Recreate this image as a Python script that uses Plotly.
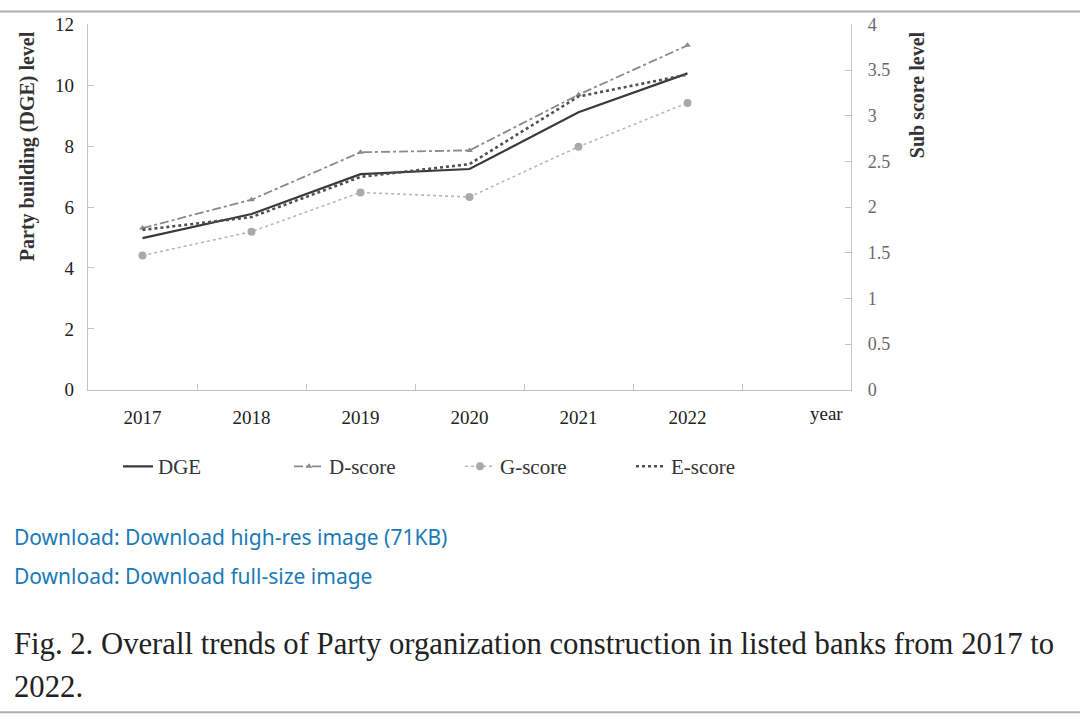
import plotly.graph_objects as go

years = ["2017", "2018", "2019", "2020", "2021", "2022"]
dge = [4.98, 5.77, 7.08, 7.25, 9.11, 10.39]
d_score = [1.77, 2.08, 2.60, 2.62, 3.23, 3.77]
g_score = [1.47, 1.73, 2.16, 2.11, 2.66, 3.14]
e_score = [1.75, 1.89, 2.33, 2.47, 3.21, 3.45]

W, H = 1080, 728
SERIF = "Liberation Serif"

def px_x(p):
    return p / W

def px_y(p):
    # screen pixel -> paper fraction (the page renders the figure ~708px tall, ~10px down)
    return 1 - (p - 9.65) / 708.1

fig = go.Figure()
fig.add_trace(go.Scatter(x=years, y=dge, name="DGE", mode="lines",
                         line=dict(color="#3a3a3a", width=2.2), yaxis="y"))
fig.add_trace(go.Scatter(x=years, y=d_score, name="D-score", mode="lines+markers",
                         line=dict(color="#8a8a8a", width=1.8, dash="dashdot"),
                         marker=dict(symbol="triangle-up", size=6, color="#8a8a8a"),
                         yaxis="y2"))
fig.add_trace(go.Scatter(x=years, y=g_score, name="G-score", mode="lines+markers",
                         line=dict(color="#b8b8b8", width=1.6, dash="dot"),
                         marker=dict(symbol="circle", size=8, color="#aaaaaa"),
                         yaxis="y2"))
fig.add_trace(go.Scatter(x=years, y=e_score, name="E-score", mode="lines",
                         line=dict(color="#505050", width=2.6, dash="dot"),
                         yaxis="y2"))

axis_line = "#c4c4c4"
fig.update_layout(
    width=W, height=H,
    margin=dict(l=0, r=0, t=0, b=0),
    paper_bgcolor="white", plot_bgcolor="white",
    font=dict(family=SERIF, color="#333333", size=17),
    xaxis=dict(domain=[px_x(88), px_x(851)], type="category", categoryorder="array",
               categoryarray=years, range=[-0.5, 6.5], tickson="boundaries",
               ticks="inside", ticklen=6, tickcolor=axis_line,
               showline=True, linecolor=axis_line, linewidth=1.3,
               showgrid=False, zeroline=False, ticklabelstandoff=10,
               tickfont=dict(family=SERIF, size=19, color="#222222")),
    yaxis=dict(domain=[px_y(390), px_y(24)], range=[0, 12], dtick=2,
               ticks="inside", ticklen=6, tickcolor=axis_line,
               showline=True, linecolor=axis_line, linewidth=1.3,
               showgrid=False, zeroline=False, ticklabelstandoff=9,
               tickfont=dict(family=SERIF, size=19, color="#222222")),
    yaxis2=dict(overlaying="y", side="right", range=[0, 4], dtick=0.5,
                anchor="x", ticks="inside", ticklen=6, tickcolor=axis_line,
                showline=True, linecolor=axis_line, linewidth=1.3,
                showgrid=False, zeroline=False, ticklabelstandoff=12,
                tickfont=dict(family=SERIF, size=18, color="#6a6a6a")),
    showlegend=True,
    legend=dict(orientation="h", x=px_x(118), y=px_y(467), yanchor="middle",
                xanchor="left", entrywidth=126, entrywidthmode="pixels",
                font=dict(family=SERIF, size=21, color="#333333"),
                bgcolor="rgba(0,0,0,0)"),
)

annotations = [
    dict(text="<b>Party building (DGE) level</b>", x=px_x(27), y=px_y(146), textangle=-90,
         font=dict(family=SERIF, size=20, color="#333333")),
    dict(text="<b>Sub score level</b>", x=px_x(917), y=px_y(95), textangle=-90,
         font=dict(family=SERIF, size=20, color="#333333")),
    dict(text="year", x=px_x(826), y=px_y(414),
         font=dict(family=SERIF, size=19, color="#222222")),
    dict(text="Download: Download high-res image (71KB)", x=px_x(12), y=px_y(537), xanchor="left",
         font=dict(family="Noto Sans", size=21, color="#1a7ab8")),
    dict(text="Download: Download full-size image", x=px_x(12), y=px_y(577), xanchor="left",
         font=dict(family="Noto Sans", size=21, color="#1a7ab8")),
    dict(text="Fig. 2. Overall trends of Party organization construction in listed banks from 2017 to",
         x=px_x(12), y=px_y(645), xanchor="left",
         font=dict(family=SERIF, size=30.7, color="#222222")),
    dict(text="2022.", x=px_x(12), y=px_y(688), xanchor="left",
         font=dict(family=SERIF, size=30.7, color="#222222")),
]
for a in annotations:
    a.update(xref="paper", yref="paper", showarrow=False, yanchor="middle")
    a.setdefault("xanchor", "center")
fig.update_layout(annotations=annotations)

fig.add_shape(type="line", xref="paper", yref="paper", x0=0, x1=1, y0=0.998, y1=0.998,
              line=dict(color="#b0b0b0", width=2))
fig.add_shape(type="line", xref="paper", yref="paper", x0=0, x1=1, y0=px_y(713), y1=px_y(713),
              line=dict(color="#b0b0b0", width=2))

fig.write_html("out.html", config={"displayModeBar": False},
               post_script="document.body.style.margin='0px';document.body.style.padding='0px';document.body.style.overflow='hidden';")
